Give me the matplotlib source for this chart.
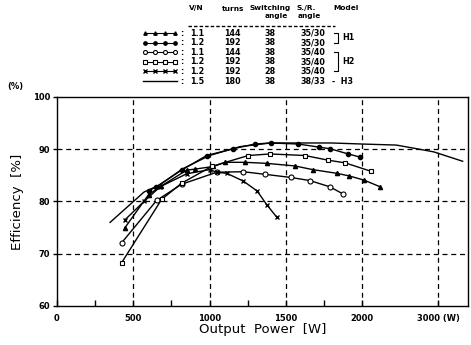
import numpy as np
import matplotlib
matplotlib.use("Agg")
import matplotlib.pyplot as plt
from matplotlib.lines import Line2D

plt.rcParams['font.family'] = ['DejaVu Sans']

# ---- data ----
tri_x = [446, 600, 680, 850, 905, 1025, 1102, 1233, 1375, 1561, 1677, 1834, 1915, 2026, 2240]
tri_y = [75.0, 81.3, 82.9, 86.0, 86.2, 86.7, 87.5, 87.5, 87.3, 86.8, 86.1, 85.4, 84.9, 84.1, 82.8]

fci_x = [600, 650, 817, 981, 1156, 1298, 1400, 1582, 1720, 1790, 1910, 1987]
fci_y = [82.0, 82.8, 86.0, 88.8, 90.1, 91.0, 91.2, 91.0, 90.4, 90.1, 89.1, 88.5]

oci_x = [424, 653, 817, 1047, 1222, 1364, 1534, 1659, 1790, 1878]
oci_y = [72.1, 80.2, 83.3, 85.6, 85.7, 85.2, 84.6, 84.0, 82.8, 81.4]

sq_x = [424, 686, 817, 1014, 1254, 1397, 1626, 1779, 1889, 2114]
sq_y = [68.3, 80.4, 83.5, 86.7, 88.8, 89.1, 88.8, 87.9, 87.4, 85.8]

xs_x = [446, 570, 675, 850, 1000, 1047, 1113, 1222, 1313, 1375, 1441]
xs_y = [76.5, 80.0, 82.8, 85.3, 86.1, 85.6, 85.4, 83.9, 82.0, 79.4, 77.0]

sol_x = [348, 570, 675, 820, 1000, 1200, 1400, 1800, 2000, 2450, 2680, 2940, 3320]
sol_y = [76.0, 81.8, 83.2, 86.2, 88.8, 90.5, 91.2, 91.2, 91.0, 90.8, 90.2, 89.5, 87.7]

x_ticks = [0, 500, 1000, 1500, 2000, 3000]
x_ticklabels = ['0', '500', '1000', '1500', '2000', '3000 (W)']
y_ticks = [60, 70, 80, 90, 100]

legend_rows = [
    ('1.1', '144', '38', '35/30'),
    ('1.2', '192', '38', '35/30'),
    ('1.1', '144', '38', '35/40'),
    ('1.2', '192', '38', '35/40'),
    ('1.2', '192', '28', '35/40'),
    ('1.5', '180', '38', '38/33'),
]

# ---- figure ----
W, H = 471, 345
fig = plt.figure(figsize=(W / 100, H / 100), dpi=100)
ax = fig.add_axes([57 / W, 1 - 306 / H, (468 - 57) / W, (306 - 97) / H])


def fwd(x):
    x = np.asarray(x, dtype=float)
    return np.where(x <= 2000, x, 2000 + (x - 2000) / 2)


def inv(y):
    y = np.asarray(y, dtype=float)
    return np.where(y <= 2000, y, 2000 + (y - 2000) * 2)


ax.set_xscale('function', functions=(fwd, inv))
ax.set_xlim(0, 3390)
ax.set_ylim(60, 100)

styles = [
    (tri_x, tri_y, dict(marker='^', ms=3.0, mfc='black', mec='black')),
    (fci_x, fci_y, dict(marker='o', ms=3.0, mfc='black', mec='black')),
    (oci_x, oci_y, dict(marker='o', ms=3.6, mfc='white', mec='black', mew=0.8)),
    (sq_x, sq_y, dict(marker='s', ms=3.4, mfc='white', mec='black', mew=0.8)),
    (xs_x, xs_y, dict(marker='x', ms=3.4, mec='black', mew=1.0)),
    (sol_x, sol_y, dict(marker=None)),
]
for xd, yd, st in styles:
    ax.plot(xd, yd, color='black', lw=1.0, **st, zorder=3)

# grid
for gx in [500, 1000, 1500, 2000, 3000]:
    ax.axvline(gx, color='black', lw=0.9, ls=(0, (4, 3)), zorder=1)
for gy in [70, 80, 90]:
    ax.axhline(gy, color='black', lw=0.9, ls=(0, (4, 3)), zorder=1)

ax.set_xticks(x_ticks)
ax.set_xticklabels(x_ticklabels, fontsize=6, fontweight='bold')
ax.set_xticks([250, 750, 1250, 1750], minor=True)
ax.set_yticks(y_ticks)
ax.set_yticklabels([str(v) for v in y_ticks], fontsize=6, fontweight='bold')
ax.tick_params(axis='x', which='both', direction='in', length=4, width=1, pad=6)
ax.tick_params(axis='y', which='major', direction='out', length=3, width=1, pad=2)
for sp in ax.spines.values():
    sp.set_linewidth(1.0)

ax.set_xlabel('Output  Power  [W]', fontsize=9.5, labelpad=0)
ax.set_ylabel('Efficiency  [%]', fontsize=9.5, labelpad=6)
fig.text(15 / W, 1 - 86 / H, '(%)', fontsize=6, fontweight='bold', ha='center', va='center')

# ---- legend table ----
def fx(px):
    return px / W


def fy(py):
    return 1 - py / H


hdr_kw = dict(fontsize=5.3, fontweight='bold', ha='center', va='center')
fig.text(fx(196), fy(8), 'V/N', **hdr_kw)
fig.text(fx(233), fy(9), 'turns', **hdr_kw)
fig.text(fx(270), fy(8), 'Switching', **hdr_kw)
fig.text(fx(276), fy(16), 'angle', **hdr_kw)
fig.text(fx(306), fy(8), 'S./R.', **hdr_kw)
fig.text(fx(309), fy(16), 'angle', **hdr_kw)
fig.text(fx(346), fy(8), 'Model', **hdr_kw)
fig.add_artist(Line2D([fx(188), fx(335)], [fy(26), fy(26)], transform=fig.transFigure,
                      color='black', lw=1.0, ls=(0, (2.5, 1.5))))

row_y = [33, 42.7, 52.3, 61.7, 71, 81]
for i, (yy, row) in enumerate(zip(row_y, legend_rows)):
    st = styles[i][2]
    if st.get('marker') is None:
        fig.add_artist(Line2D([fx(143), fx(177)], [fy(yy), fy(yy)], transform=fig.transFigure,
                              color='black', lw=1.0))
    else:
        kw = dict(st)
        kw['ms'] = kw['ms'] * 0.8
        fig.add_artist(Line2D([fx(145), fx(155), fx(165), fx(175)], [fy(yy)] * 4,
                              transform=fig.transFigure, color='black', lw=0.8, **kw))
    t_kw = dict(fontsize=5.8, fontweight='bold', va='center')
    fig.text(fx(182), fy(yy), ':', ha='center', **t_kw)
    fig.text(fx(190), fy(yy), row[0], ha='left', **t_kw)
    fig.text(fx(232), fy(yy), row[1], ha='center', **t_kw)
    fig.text(fx(270), fy(yy), row[2], ha='center', **t_kw)
    fig.text(fx(313), fy(yy), row[3], ha='center', **t_kw)

# model brackets
def bracket(y0, y1, label):
    xb = fx(338)
    fig.add_artist(Line2D([fx(334), xb, xb, fx(334)], [fy(y0), fy(y0), fy(y1), fy(y1)],
                          transform=fig.transFigure, color='black', lw=0.8))
    fig.text(fx(342), fy((y0 + y1) / 2), label, fontsize=5.8, fontweight='bold',
             ha='left', va='center')


bracket(33, 42.7, 'H1')
bracket(52.3, 71, 'H2')
fig.text(fx(332), fy(81), '-  H3', fontsize=5.8, fontweight='bold', ha='left', va='center')

fig.savefig('out.png', dpi=100)
